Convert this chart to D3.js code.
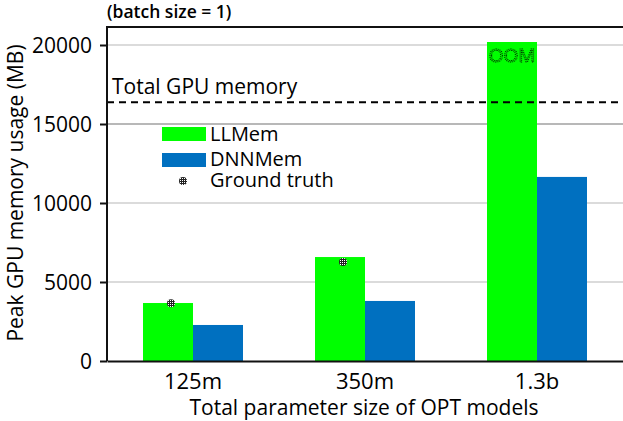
<!DOCTYPE html>
<html><head><meta charset="utf-8">
<script src="https://cdn.jsdelivr.net/npm/d3@7"></script>
<style>body{margin:0;background:#fff}svg{display:block;font-family:"Open Sans",sans-serif}</style>
</head><body>
<script>
const categories = ["125m", "350m", "1.3b"];
const llmem = [3670, 6580, 20190];
const dnnmem = [2280, 3800, 11650];
const groundTruth = [3650, 6270, null];
const yTicks = [0, 5000, 10000, 15000, 20000];
const gpuMemory = 16384;
const seriesNames = ["LLMem", "DNNMem"];
const colors = ["#00ff00", "#0070c0"];

const W = 623, H = 421;
const FF = "'Open Sans',sans-serif";
const m = {left: 107, right: 0, top: 28, bottom: 61};
const svg = d3.select("body").append("svg").attr("width", W).attr("height", H);
const defs = svg.append("defs");
const pat = defs.append("pattern").attr("id","dots").attr("width",2).attr("height",2).attr("patternUnits","userSpaceOnUse");
pat.append("rect").attr("width",2).attr("height",2).attr("fill","#222");
pat.append("rect").attr("width",1).attr("height",1).attr("fill","#fff");

const x = d3.scaleBand().domain(categories).range([m.left, W - m.right]).paddingInner(0).paddingOuter(0);
const y = d3.scaleLinear().domain([0, 21076]).range([H - m.bottom + 1, m.top]);
const bw = 50;

// gridlines
svg.append("g").selectAll("line").data(yTicks.filter(d => d > 0)).join("line")
  .attr("x1", m.left).attr("x2", W).attr("y1", d => y(d)).attr("y2", d => y(d))
  .attr("stroke", d => d === 15000 ? "#a0a0a0" : "#cfcfcf").attr("stroke-width", 1.5);

// bars
const series = [llmem, dnnmem];
series.forEach((vals, si) => {
  svg.append("g").selectAll("rect").data(categories).join("rect")
    .attr("x", (c) => x(c) + x.bandwidth()/2 - bw + si*bw)
    .attr("y", (c, i) => y(vals[i]))
    .attr("width", bw)
    .attr("height", (c, i) => y(0) - y(vals[i]))
    .attr("fill", colors[si]);
});

// OOM label
svg.append("text").attr("x", x("1.3b") + x.bandwidth()/2 - bw/2).attr("y", y(llmem[2]) + 20)
  .attr("text-anchor","middle").attr("font-size", 19).attr("fill","none")
  .attr("stroke","#000").attr("stroke-width",0.9).attr("stroke-dasharray","1,1").text("OOM");

// ground truth
svg.append("g").selectAll("circle").data(categories.filter((c,i)=>groundTruth[i]!=null)).join("circle")
  .attr("cx", c => x(c) + x.bandwidth()/2 - bw/2 + 3)
  .attr("cy", (c,i) => y(groundTruth[i]))
  .attr("r", 4).attr("fill","url(#dots)");

// GPU memory dashed line
svg.append("line").attr("x1", m.left).attr("x2", W).attr("y1", y(gpuMemory)).attr("y2", y(gpuMemory))
  .attr("stroke","#000").attr("stroke-width",2).attr("stroke-dasharray","7,5");
svg.append("text").attr("x", 112).attr("y", y(gpuMemory) - 8).attr("font-size", 21).attr("fill","#000").text("Total GPU memory");

// frame top
svg.append("line").attr("x1", m.left).attr("x2", W).attr("y1", m.top - 1).attr("y2", m.top - 1).attr("stroke","#111").attr("stroke-width",2);

// axes
const ya = svg.append("g").attr("transform", `translate(${m.left},0)`)
  .call(d3.axisLeft(y).tickValues(yTicks).tickSize(7).tickSizeOuter(0).tickFormat(d3.format("d")));
ya.select(".domain").attr("stroke","#111").attr("stroke-width",2).attr("d", `M0,${y(0)}V${m.top-2}`);
ya.selectAll(".tick line").attr("stroke","#111").attr("stroke-width",2);
ya.selectAll(".tick text").attr("font-size",21).attr("font-family",FF).attr("fill","#000").attr("x",-15).attr("dy","0.35em");

const xa = svg.append("g").attr("transform", `translate(0,${y(0)})`)
  .call(d3.axisBottom(x).tickSize(0).tickSizeOuter(0));
xa.select(".domain").attr("stroke","#111").attr("stroke-width",2);
xa.selectAll(".tick text").attr("font-size",22).attr("font-family",FF).attr("fill","#000").attr("dy",0).attr("y",28);

// titles
svg.append("text").attr("x", 364).attr("y", 415).attr("text-anchor","middle").attr("font-size",21).attr("fill","#000").text("Total parameter size of OPT models");
svg.append("text").attr("transform","translate(23,193) rotate(-90)").attr("text-anchor","middle").attr("font-size",21).attr("fill","#000").text("Peak GPU memory usage (MB)");
svg.append("text").attr("x", 107).attr("y", 18).attr("font-size",17.5).attr("font-weight",600).attr("fill","#000").text("(batch size = 1)");

// legend
const lg = svg.append("g");
seriesNames.forEach((n, i) => {
  lg.append("rect").attr("x",162).attr("y",127 + i*26).attr("width",44).attr("height",14).attr("fill",colors[i]);
  lg.append("text").attr("x",210).attr("y",141 + i*25).attr("font-size",20).attr("fill","#000").text(n);
});
lg.append("circle").attr("cx",183).attr("cy",181).attr("r",4).attr("fill","url(#dots)");
lg.append("text").attr("x",210).attr("y",187).attr("font-size",20).attr("fill","#000").text("Ground truth");
</script>
</body></html>
